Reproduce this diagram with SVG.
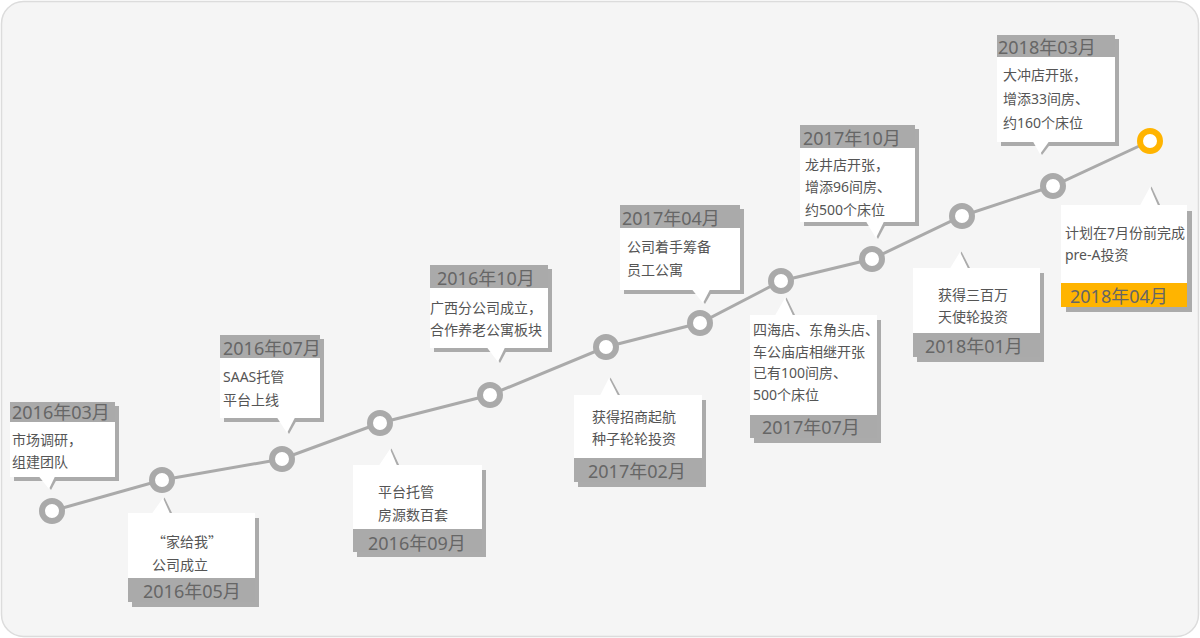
<svg xmlns="http://www.w3.org/2000/svg" width="1200" height="638" viewBox="0 0 1200 638">
<style>
.bg{fill:#f5f5f5;stroke:#dcdcdc;stroke-width:1.5}
.sh{fill:#ababab}
.box{fill:#fff}
.band{fill:#aaaaaa}
.bando{fill:#ffb400}
.dt{font-family:"Noto Sans","Noto Sans CJK SC",sans-serif;font-size:18px;fill:#666}
.tx{font-family:"Noto Sans","Noto Sans CJK SC",sans-serif;font-size:14px;fill:#555}
.cjk{font-family:"Noto Sans CJK SC",sans-serif}
.dot{fill:#fff;stroke:#aaaaaa;stroke-width:6}
.doto{fill:#fff;stroke:#ffb400;stroke-width:6}
.line{fill:none;stroke:#aaaaaa;stroke-width:3}
</style>
<rect class="bg" x="1.5" y="1.5" width="1197" height="635" rx="22"/>
<g id="connectors">
<polyline class="line" points="52,511 162,480 282,459 380,423 490,395 606,347 700,323 781,281 872,259 962,216 1053,186 1150,141"/>
</g>
<g id="e1">
<rect class="sh" x="14" y="406" width="105" height="75"/>
<polygon class="sh" points="41,477 58,477 51,490"/>
<rect class="box" x="10" y="422" width="105" height="55"/>
<rect class="band" x="10" y="402" width="105" height="20"/>
<polygon class="box" points="39,476.5 55,476.5 49,489"/>
<text class="dt" x="12" y="419">2016年03月</text>
<text class="tx" x="12" y="445">市场调研，</text>
<text class="tx" x="12" y="467">组建团队</text>
<circle class="dot" cx="52" cy="511" r="10"/>
</g>
<g id="e2">
<rect class="sh" x="132" y="518" width="127" height="89"/>
<polygon class="sh" points="154,515 173,515 164.5,497.5"/>
<rect class="box" x="128" y="513" width="127" height="65"/>
<rect class="band" x="128" y="578" width="127" height="24"/>
<polygon class="box" points="152,513.5 170,513.5 163,498"/>
<text class="tx cjk" x="152" y="547">“家给我”</text>
<text class="tx" x="152" y="570">公司成立</text>
<text class="dt" x="143" y="598">2016年05月</text>
<circle class="dot" cx="162" cy="480" r="10"/>
</g>
<g id="e3">
<rect class="sh" x="224" y="339" width="100" height="83"/>
<polygon class="sh" points="279,418 298,418 289,434"/>
<rect class="box" x="220" y="358" width="100" height="60"/>
<rect class="band" x="220" y="335" width="100" height="23"/>
<polygon class="box" points="277,417.5 295,417.5 287,433"/>
<text class="dt" x="223" y="355">2016年07月</text>
<text class="tx" x="223" y="382">SAAS托管</text>
<text class="tx" x="223" y="405">平台上线</text>
<circle class="dot" cx="282" cy="459" r="10"/>
</g>
<g id="e4">
<rect class="sh" x="357" y="470" width="129" height="87"/>
<polygon class="sh" points="381,467 400,467 391.5,448.5"/>
<rect class="box" x="353" y="465" width="129" height="64"/>
<rect class="band" x="353" y="529" width="129" height="23"/>
<polygon class="box" points="379,465.5 397,465.5 390,449"/>
<text class="tx" x="378" y="497">平台托管</text>
<text class="tx" x="378" y="520">房源数百套</text>
<text class="dt" x="368" y="550">2016年09月</text>
<circle class="dot" cx="380" cy="423" r="10"/>
</g>
<g id="e5">
<rect class="sh" x="434" y="269" width="118" height="83"/>
<polygon class="sh" points="489,348 508,348 500,363"/>
<rect class="box" x="430" y="288" width="118" height="60"/>
<rect class="band" x="430" y="265" width="118" height="23"/>
<polygon class="box" points="487,347.5 505,347.5 498,362"/>
<text class="dt" x="437" y="285">2016年10月</text>
<text class="tx" x="430" y="313">广西分公司成立，</text>
<text class="tx" x="430" y="335">合作养老公寓板块</text>
<circle class="dot" cx="490" cy="395" r="10"/>
</g>
<g id="e6">
<rect class="sh" x="578" y="400" width="128" height="87"/>
<polygon class="sh" points="602,397 621,397 610.5,377.5"/>
<rect class="box" x="574" y="395" width="128" height="63"/>
<rect class="band" x="574" y="458" width="128" height="24"/>
<polygon class="box" points="600,395.5 618,395.5 609,378"/>
<text class="tx" x="592" y="422">获得招商起航</text>
<text class="tx" x="592" y="444">种子轮轮投资</text>
<text class="dt" x="588" y="478">2017年02月</text>
<circle class="dot" cx="606" cy="347" r="10"/>
</g>
<g id="e7">
<rect class="sh" x="624" y="209" width="120" height="85"/>
<polygon class="sh" points="694,290 713,290 705,304"/>
<rect class="box" x="620" y="228" width="120" height="62"/>
<rect class="band" x="620" y="205" width="120" height="23"/>
<polygon class="box" points="692,289.5 710,289.5 703,303"/>
<text class="dt" x="622" y="225">2017年04月</text>
<text class="tx" x="627" y="252">公司着手筹备</text>
<text class="tx" x="627" y="275">员工公寓</text>
<circle class="dot" cx="700" cy="323" r="10"/>
</g>
<g id="e8">
<rect class="sh" x="754" y="320" width="127" height="123"/>
<polygon class="sh" points="777,317 796,317 786.5,297.5"/>
<rect class="box" x="750" y="315" width="127" height="100"/>
<rect class="band" x="750" y="415" width="127" height="23"/>
<polygon class="box" points="775,315.5 793,315.5 785,298"/>
<text class="tx" x="753" y="335">四海店、东角头店、</text>
<text class="tx" x="753" y="357">车公庙店相继开张</text>
<text class="tx" x="753" y="378">已有100间房、</text>
<text class="tx" x="753" y="400">500个床位</text>
<text class="dt" x="762" y="434">2017年07月</text>
<circle class="dot" cx="781" cy="281" r="10"/>
</g>
<g id="e9">
<rect class="sh" x="804" y="129" width="115" height="97"/>
<polygon class="sh" points="868,222 887,222 878,239"/>
<rect class="box" x="800" y="148" width="115" height="74"/>
<rect class="band" x="800" y="125" width="115" height="23"/>
<polygon class="box" points="866,221.5 884,221.5 876,238"/>
<text class="dt" x="803" y="145">2017年10月</text>
<text class="tx" x="805" y="170">龙井店开张，</text>
<text class="tx" x="805" y="192">增添96间房、</text>
<text class="tx" x="805" y="215">约500个床位</text>
<circle class="dot" cx="872" cy="259" r="10"/>
</g>
<g id="e10">
<rect class="sh" x="917" y="273" width="127" height="89"/>
<polygon class="sh" points="952,270 971,270 961.5,251.5"/>
<rect class="box" x="913" y="268" width="127" height="65"/>
<rect class="band" x="913" y="333" width="127" height="24"/>
<polygon class="box" points="950,268.5 968,268.5 960,252"/>
<text class="tx" x="938" y="300">获得三百万</text>
<text class="tx" x="938" y="322">天使轮投资</text>
<text class="dt" x="925" y="353">2018年01月</text>
<circle class="dot" cx="962" cy="216" r="10"/>
</g>
<g id="e11">
<rect class="sh" x="1001" y="39" width="118" height="107"/>
<polygon class="sh" points="1035,142 1052,142 1042,155"/>
<rect class="box" x="997" y="57" width="118" height="85"/>
<rect class="band" x="997" y="35" width="118" height="22"/>
<polygon class="box" points="1033,141.5 1049,141.5 1040,154"/>
<text class="dt" x="998" y="54">2018年03月</text>
<text class="tx" x="1003" y="80">大冲店开张，</text>
<text class="tx" x="1003" y="104">增添33间房、</text>
<text class="tx" x="1003" y="128">约160个床位</text>
<circle class="dot" cx="1053" cy="186" r="10"/>
</g>
<g id="e12">
<rect class="sh" x="1066" y="211" width="126" height="101"/>
<polygon class="sh" points="1142,207 1161,207 1151.5,186.5"/>
<rect class="box" x="1061" y="205" width="126" height="78"/>
<rect class="bando" x="1061" y="283" width="126" height="24"/>
<polygon class="box" points="1140,205.5 1158,205.5 1150,187"/>
<text class="tx" x="1065" y="238">计划在7月份前完成</text>
<text class="tx" x="1065" y="260">pre-A投资</text>
<text class="dt" x="1070" y="303">2018年04月</text>
<circle class="doto" cx="1150" cy="141" r="10"/>
</g>
</svg>
